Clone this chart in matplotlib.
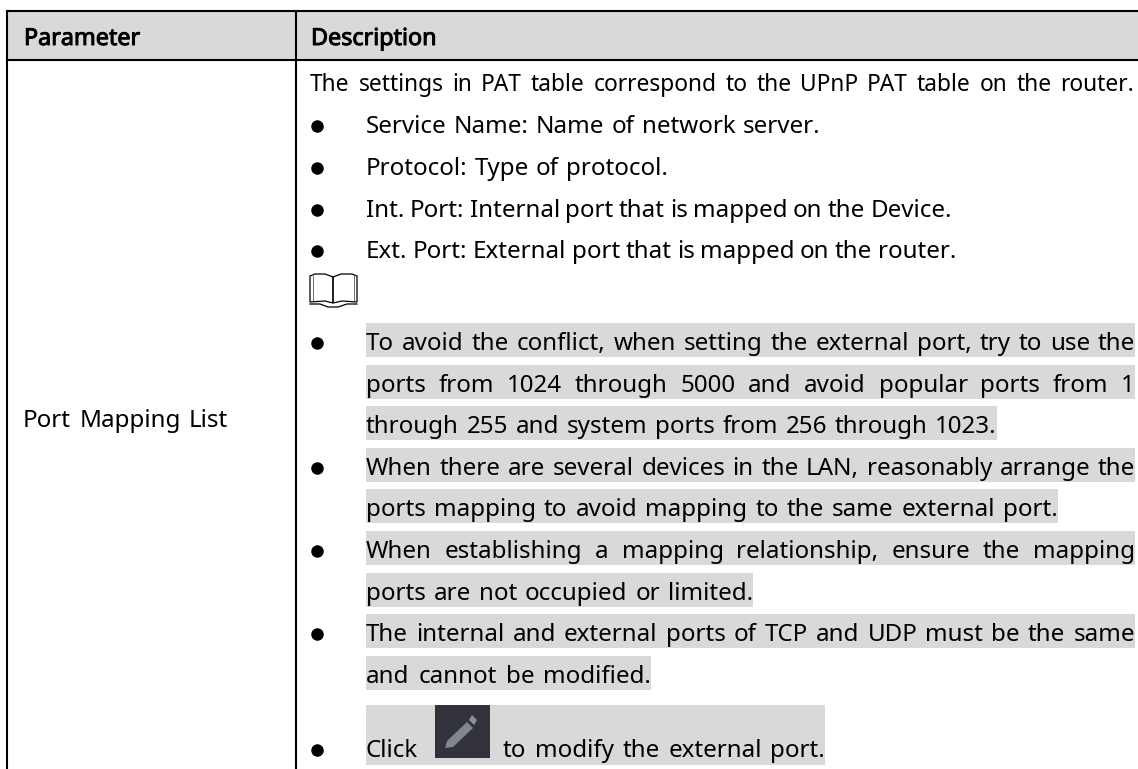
"""
plot.py

Redraws the Port Mapping List parameter table as a matplotlib figure.
"""

import matplotlib
matplotlib.use("Agg")
import matplotlib.pyplot as plt
import matplotlib.patheffects as pe
from matplotlib.patches import Polygon, Rectangle

WIDTH = 1138
HEIGHT = 769
FONT = "Noto Sans"
FONT_SIZE = 17.4
TEXT_COLOR = "#000000"
BAND_COLOR = "#d9d9d9"

header_labels = ["Parameter", "Description"]
parameter_label = "Port Mapping List"

# text, baseline y, right x of the line
intro_line = ("The settings in PAT table correspond to the UPnP PAT table on the router.", 91, 1134)
bullet_lines = [
    ("Service Name: Name of network server.", 133, 820),
    ("Protocol: Type of protocol.", 175, 668),
    ("Int. Port: Internal port that is mapped on the Device.", 217, 952),
    ("Ext. Port: External port that is mapped on the router.", 258, 956),
]
# text, baseline y, starts a bullet, right x of the line
note_lines = [
    ("To avoid the conflict, when setting the external port, try to use the", 350, True, 1135),
    ("ports from 1024 through 5000 and avoid popular ports from 1", 392, False, 1135),
    ("through 255 and system ports from 256 through 1023.", 433, False, 997),
    ("When there are several devices in the LAN, reasonably arrange the", 475, True, 1135),
    ("ports mapping to avoid mapping to the same external port.", 516, False, 1058),
    ("When establishing a mapping relationship, ensure the mapping", 558, True, 1135),
    ("ports are not occupied or limited.", 600, False, 753),
    ("The internal and external ports of TCP and UDP must be the same", 641, True, 1135),
    ("and cannot be modified.", 683, False, 651),
]
click_words = ("Click", "to modify the external port.")


fig = plt.figure(figsize=(WIDTH / 100, HEIGHT / 100), dpi=100)
ax = fig.add_axes([0, 0, 1, 1])
ax.set_xlim(0, WIDTH)
ax.set_ylim(HEIGHT, 0)
ax.axis("off")
renderer = fig.canvas.get_renderer()


def width_of(text, size):
    t = ax.text(0, 0, text, fontsize=size, family=FONT)
    w = t.get_window_extent(renderer).width
    t.remove()
    return w


def draw_line(text, y, x0, x1, size=FONT_SIZE):
    """Draw one line word by word so that it runs from x0 to x1."""
    words = text.split(" ")
    widths = [width_of(w, size) for w in words]
    gap = (x1 - x0 - sum(widths)) / (len(words) - 1)
    x = x0
    for word, w in zip(words, widths):
        ax.text(x, y, word, fontsize=size, family=FONT, color=TEXT_COLOR,
                va="baseline", zorder=3)
        x += w + gap


def draw_band(y, x0, x1):
    ax.add_patch(Rectangle((x0, y - 27), x1 - x0, 34, facecolor=BAND_COLOR,
                           edgecolor="none", zorder=1))


def draw_bullet(y):
    ax.plot([317], [y - 7.5], marker="o", ms=9, color="black", mew=0, zorder=3)


# header band and grid
ax.add_patch(Rectangle((7, 11), WIDTH, 49, facecolor=BAND_COLOR, edgecolor="none", zorder=0))
ax.plot([7, WIDTH], [11, 11], color="black", lw=1.5, zorder=2)
ax.plot([7, WIDTH], [60, 60], color="black", lw=1.5, zorder=2)
ax.plot([7, 7], [11, HEIGHT], color="black", lw=1.5, zorder=2)
ax.plot([296, 296], [11, HEIGHT], color="black", lw=1.5, zorder=2)

# the installed family has no semibold face, so thicken the header text a little
heavy = [pe.withStroke(linewidth=0.7, foreground=TEXT_COLOR)]
ax.text(24, 45, header_labels[0], fontsize=16.8, family=FONT, color=TEXT_COLOR, path_effects=heavy)
ax.text(311, 45, header_labels[1], fontsize=16.8, family=FONT, color=TEXT_COLOR, path_effects=heavy)
draw_line(parameter_label, 427, 23, 228)

draw_line(intro_line[0], intro_line[1], 310, intro_line[2], size=16.4)

for text, y, x1 in bullet_lines:
    draw_bullet(y)
    draw_line(text, y, 366, x1)

# open book note icon
book_left = [(310, 276), (315, 274), (325, 274), (333, 277), (333, 303), (325, 301),
             (310, 302)]
book_right = [(333, 277), (341, 274), (352, 274), (357, 276), (357, 302), (342, 301),
              (333, 303)]
ax.add_patch(Polygon(book_left, closed=True, fill=False, edgecolor="black", lw=0.9, zorder=3))
ax.add_patch(Polygon(book_right, closed=True, fill=False, edgecolor="black", lw=0.9, zorder=3))
ax.plot([313, 313], [276, 300], color="#555555", lw=0.6, zorder=3)
ax.plot([354, 354], [276, 300], color="#555555", lw=0.6, zorder=3)
ax.plot([310, 320, 328, 338, 347, 357], [304, 304, 307, 307, 304, 304], color="black", lw=0.9, zorder=3)

for text, y, is_first, x1 in note_lines:
    draw_band(y, 366, x1)
    if is_first:
        draw_bullet(y)
    draw_line(text, y, 366, x1)

# last row: click line with the pencil button
ax.add_patch(Rectangle((366, 705), 459, 60, facecolor=BAND_COLOR, edgecolor="none", zorder=1))
ax.add_patch(Rectangle((435, 705), 55, 53, facecolor="#31323c", edgecolor="none", zorder=2))
ax.add_patch(Polygon([(467, 722), (473, 728), (453, 747), (445, 748), (447, 741)],
                     closed=True, facecolor="#7d878c", edgecolor="none", zorder=3))
ax.add_patch(Polygon([(472, 715), (477, 720), (474, 725), (469, 720)],
                     closed=True, facecolor="#8a9397", edgecolor="none", zorder=3))
draw_bullet(757)
ax.text(366, 757, click_words[0], fontsize=FONT_SIZE, family=FONT, color=TEXT_COLOR, zorder=3)
draw_line(click_words[1], 757, 503, 825)

fig.savefig("out.png", dpi=100)
